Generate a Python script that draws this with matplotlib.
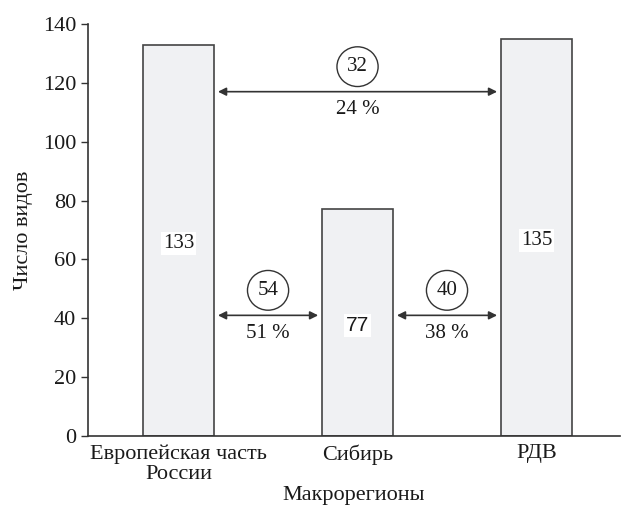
import matplotlib.pyplot as plt
from matplotlib.patches import Ellipse

plt.rcParams["font.family"] = ["Liberation Serif", "DejaVu Serif"]

categories = ["Европейская часть\nРоссии", "Сибирь", "РДВ"]
species = [133, 77, 135]
# pairwise comparisons: (left bar, right bar, level, shared count, percent)
pairs = [
    (0, 2, 117, 32, "24 %"),
    (0, 1, 41, 54, "51 %"),
    (1, 2, 41, 40, "38 %"),
]

fig = plt.figure(figsize=(6.23, 5.05), dpi=100)
ax = fig.add_axes([0.1413, 0.1366, 0.8537, 0.8159])

width = 0.4
x = list(range(len(categories)))
ax.bar(x, species, width=width, color="#f0f1f3", edgecolor="#444444",
       linewidth=1.2, zorder=2)

for xi, v in zip(x, species):
    fam = ["Liberation Sans"] if v == 77 else ["Liberation Serif"]
    ax.text(xi, v / 2 - 1, str(v), ha="center", va="center", fontsize=15,
            family=fam, color="#1a1a1a", zorder=4,
            bbox=dict(facecolor="white", edgecolor="none", pad=1.5))

for i, j, lvl, n, pct in pairs:
    x0 = i + width / 2 + 0.02
    x1 = j - width / 2 - 0.02
    ax.annotate("", xy=(x1, lvl), xytext=(x0, lvl),
                arrowprops=dict(arrowstyle="<|-|>", color="#333333", lw=1.2,
                                mutation_scale=12, shrinkA=0, shrinkB=0))
    xm = (x0 + x1) / 2
    ax.add_patch(Ellipse((xm, lvl + 8.5), 0.23, 13.5, facecolor="white",
                         edgecolor="#333333", linewidth=1.0, zorder=3))
    ax.text(xm, lvl + 8.5, str(n), ha="center", va="center", fontsize=15,
            color="#1a1a1a", zorder=4)
    ax.text(xm, lvl - 6, pct, ha="center", va="center", fontsize=15,
            color="#1a1a1a")

ax.set_xlim(-0.506, 2.466)
ax.set_ylim(0, 140)
ax.set_yticks(range(0, 141, 20))
ax.set_xticks(x)
ax.set_xticklabels(categories, fontsize=16, linespacing=1.1, color="#1a1a1a")
ax.tick_params(axis="x", length=0, pad=6)
ax.tick_params(axis="y", labelsize=16, length=5, width=1.0, color="#333333",
               labelcolor="#1a1a1a")
for s in ["top", "right"]:
    ax.spines[s].set_visible(False)
for s in ["left", "bottom"]:
    ax.spines[s].set_color("#333333")
    ax.spines[s].set_linewidth(1.2)

ax.set_xlabel("Макрорегионы", fontsize=16, labelpad=1, color="#1a1a1a")
ax.set_ylabel("Число видов", fontsize=16, labelpad=7, color="#1a1a1a")

fig.savefig("out.png", dpi=100)
